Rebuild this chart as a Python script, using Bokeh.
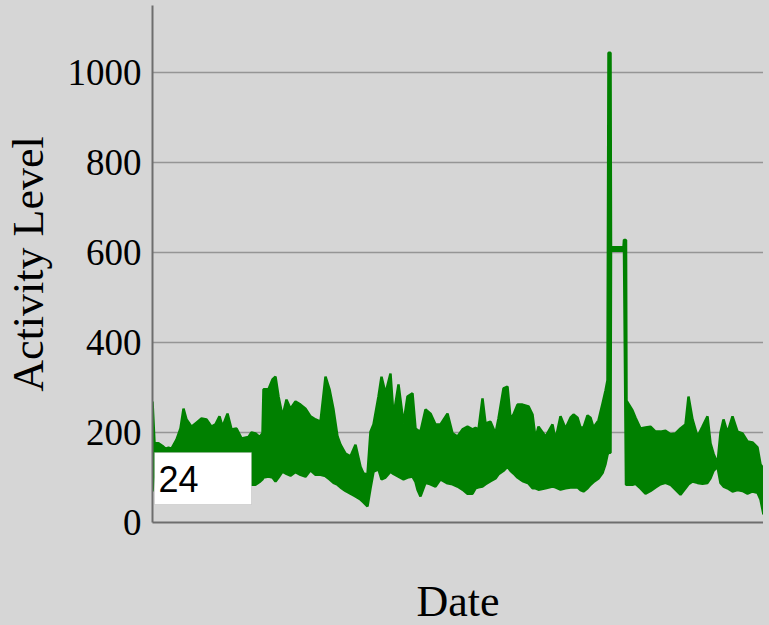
from bokeh.plotting import figure
from bokeh.models import (FixedTicker, BoxAnnotation, Label, Range1d,
                          ColumnDataSource, GlobalInlineStyleSheet)
from bokeh.embed import file_html
from bokeh.resources import INLINE

# ---- data ----
t = [0, 2, 6, 10, 13, 16, 19, 24, 28, 31, 34, 39, 44, 49, 54, 59, 63, 67, 70, 75,
     79, 84, 89, 96, 99, 103, 107, 110, 111, 116, 120, 123, 126, 130, 134, 138, 143,
     148, 153, 158, 163, 168, 173, 177, 181, 185, 188, 193, 198, 203, 208, 211, 215,
     218, 221, 226, 229, 233, 238, 241, 246, 251, 255, 260, 263, 265, 268, 273, 278,
     283, 288, 295, 300, 305, 310, 315, 320, 323, 326, 330, 333, 338, 343, 346, 351,
     355, 358, 361, 365, 370, 376, 380, 383, 386, 393, 400, 403, 408, 413, 418, 421,
     425, 428, 431, 435, 438, 441, 446, 450, 453, 455, 456, 458, 458.5, 471, 471.5,
     473.5, 474, 480, 483, 488, 493, 498, 503, 508, 513, 518, 523, 528, 533, 536, 540,
     545, 550, 555, 558, 561, 565, 568, 571, 575, 580, 585, 590, 595, 600, 605, 608, 611]
upper = [269, 176, 176, 170, 164, 166, 164, 184, 209, 253, 229, 213, 222, 231, 229, 213,
         218, 236, 213, 242, 207, 209, 187, 190, 200, 198, 190, 198, 296, 296, 318, 324,
         280, 236, 273, 253, 269, 262, 253, 236, 229, 224, 324, 296, 251, 191, 173, 153,
         147, 173, 124, 109, 107, 202, 218, 280, 324, 287, 331, 236, 307, 220, 280, 287,
         209, 205, 202, 251, 242, 218, 218, 242, 198, 191, 207, 213, 207, 210, 207, 276,
         220, 224, 198, 231, 298, 302, 231, 240, 262, 262, 258, 240, 187, 213, 191, 218,
         184, 236, 209, 233, 240, 233, 211, 211, 238, 233, 211, 227, 264, 293, 316, 1044,
         1044, 612, 612, 628, 628, 271, 249, 233, 209, 211, 213, 202, 202, 204, 196, 198,
         209, 218, 280, 229, 191, 213, 236, 176, 153, 131, 200, 229, 200, 236, 202, 198,
         180, 178, 167, 129, 120]
lower = [69, 120, 120, 125, 125, 125, 125, 125, 125, 125, 125, 125, 125, 125, 125, 125,
         120, 120, 120, 115, 115, 115, 110, 100, 84, 84, 90, 96, 100, 102, 100, 91, 100,
         113, 108, 104, 112, 106, 102, 116, 106, 106, 103, 96, 88, 84, 78, 70, 64, 58, 51,
         45, 36, 76, 113, 118, 96, 100, 113, 108, 102, 96, 100, 102, 90, 73, 58, 88, 85,
         80, 96, 87, 85, 80, 73, 64, 64, 76, 78, 80, 85, 92, 98, 107, 115, 124, 115, 109,
         100, 92, 87, 76, 76, 73, 76, 80, 78, 73, 76, 78, 78, 78, 72, 69, 76, 84, 90, 98,
         110, 130, 151, 155, 155, 604, 604, 604, 84, 84, 84, 86, 76, 64, 70, 78, 85, 88,
         84, 73, 62, 76, 85, 91, 88, 86, 88, 98, 115, 124, 88, 80, 76, 69, 72, 70, 64, 69,
         66, 51, 18]
y_ticks = [0, 200, 400, 600, 800, 1000]
roll_period = "24"
x_label = "Date"
y_label = "Activity Level"

BG = "#d6d6d6"
GREEN = "#008000"

src = ColumnDataSource(dict(t=t, upper=upper, lower=lower))

p = figure(frame_width=611, frame_height=517,
           x_range=Range1d(0, 611), y_range=Range1d(0, 1149),
           output_backend="svg", toolbar_location=None,
           min_border_left=152, min_border_right=0, min_border_top=5,
           min_border_bottom=103,
           background_fill_color=BG, border_fill_color=BG,
           outline_line_color=None)
p.stylesheets = [GlobalInlineStyleSheet(css="body{background:%s;}" % BG)]

p.varea(x="t", y1="lower", y2="upper", source=src, fill_color=GREEN)
p.line(x="t", y="upper", source=src, line_color=GREEN, line_width=2.5)
p.line(x="t", y="lower", source=src, line_color=GREEN, line_width=2.5)

# axes
p.xaxis.ticker = FixedTicker(ticks=[])
p.xaxis.axis_label = x_label
p.xaxis.axis_label_standoff = 54
p.yaxis.ticker = FixedTicker(ticks=y_ticks)
p.yaxis.axis_label = y_label
p.yaxis.axis_label_standoff = 12
p.yaxis.major_label_standoff = 5
for ax in (p.xaxis[0], p.yaxis[0]):
    ax.axis_line_color = "#6e6e6e"
    ax.axis_line_width = 2
    ax.major_tick_line_color = None
    ax.minor_tick_line_color = None
    ax.axis_label_text_font = "Liberation Serif"
    ax.axis_label_text_font_size = "44px"
    ax.axis_label_text_font_style = "normal"
    ax.axis_label_text_color = "black"
    ax.axis_label_text_line_height = 1.0
    ax.major_label_text_font = "Liberation Serif"
    ax.major_label_text_font_size = "37px"
    ax.major_label_text_color = "black"

p.xgrid.visible = False
p.ygrid.ticker = FixedTicker(ticks=y_ticks[1:])
p.ygrid.grid_line_color = "#959595"
p.ygrid.grid_line_width = 1.5

# roll-period input box
box = BoxAnnotation(left=2, right=99, bottom=18, top=70,
                    left_units="screen", right_units="screen",
                    bottom_units="screen", top_units="screen",
                    fill_color="white", fill_alpha=1.0,
                    line_color="#a0a0a0", line_width=1)
p.add_layout(box)
p.add_layout(Label(x=6, y=44, x_units="screen", y_units="screen",
                   text=roll_period, text_font="Liberation Sans",
                   text_font_size="36px", text_baseline="middle",
                   text_color="black"))

open("out.html", "w").write(file_html(p, INLINE))
